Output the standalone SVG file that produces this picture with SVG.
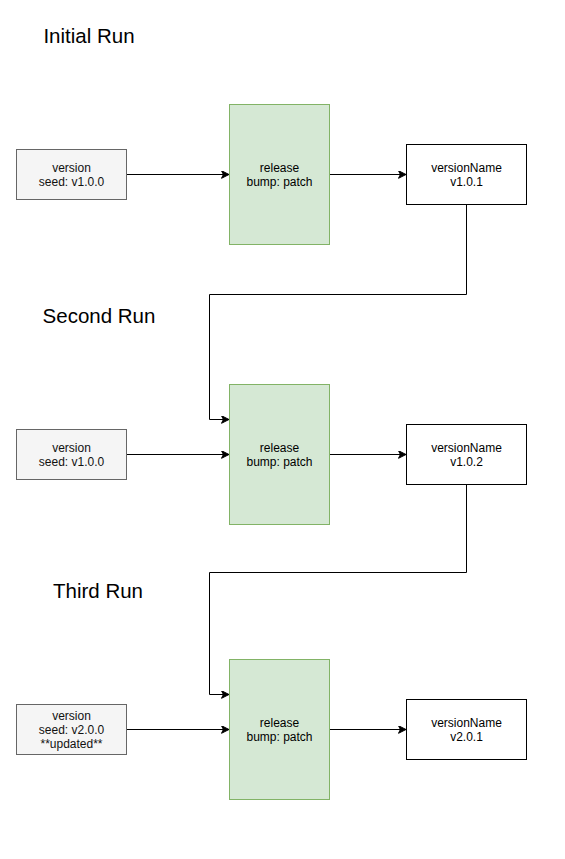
<svg xmlns="http://www.w3.org/2000/svg" width="565" height="859" viewBox="0 0 565 859">
<style>
.bg{fill:#ffffff}
.seed{fill:#f5f5f5;stroke:#666666;stroke-width:1}
.rel{fill:#d5e8d4;stroke:#82b366;stroke-width:1}
.out{fill:#ffffff;stroke:#000000;stroke-width:1}
.t{font-family:"Liberation Sans",Arial,sans-serif;font-size:12px;text-anchor:middle;fill:#000000}
.ts{fill:#111111}
.title{font-family:"Liberation Sans",Arial,sans-serif;font-size:20.5px;text-anchor:middle;fill:#000000}
.edge{fill:none;stroke:#000000;stroke-width:1}
</style>
<defs>
<marker id="arr" markerUnits="userSpaceOnUse" viewBox="-8 -4 9 8" refX="0" refY="0" markerWidth="9" markerHeight="8" orient="auto">
<path d="M0,0 L-7.5,-3.8 L-5.6,0 L-7.5,3.8 Z" fill="#000000" stroke="#000000" stroke-width="1"/>
</marker>
</defs>
<rect class="bg" x="0" y="0" width="565" height="859"/>

<g id="titles">
<text class="title" x="89" y="43">Initial Run</text>
<text class="title" x="99" y="323">Second Run</text>
<text class="title" x="98" y="598">Third Run</text>
</g>

<g id="connectors">
<path class="edge" d="M126.5,174.5 L229,174.5" marker-end="url(#arr)"/>
<path class="edge" d="M329.5,174.5 L406,174.5" marker-end="url(#arr)"/>
<path class="edge" d="M466.5,204.5 L466.5,294.5 L209.5,294.5 L209.5,419.5 L229,419.5" marker-end="url(#arr)"/>
<path class="edge" d="M126.5,454.5 L229,454.5" marker-end="url(#arr)"/>
<path class="edge" d="M329.5,454.5 L406,454.5" marker-end="url(#arr)"/>
<path class="edge" d="M466.5,484.5 L466.5,572.5 L209.5,572.5 L209.5,694.5 L229,694.5" marker-end="url(#arr)"/>
<path class="edge" d="M126.5,729.5 L229,729.5" marker-end="url(#arr)"/>
<path class="edge" d="M329.5,729.5 L406,729.5" marker-end="url(#arr)"/>
</g>

<g id="seed1">
<rect class="seed" x="16.5" y="149.5" width="110" height="50"/>
<text class="t ts" x="71.5" y="171.5">version</text>
<text class="t ts" x="71.5" y="185.5">seed: v1.0.0</text>
</g>
<g id="release1">
<rect class="rel" x="229.5" y="104.5" width="100" height="140"/>
<text class="t" x="279.5" y="171.5">release</text>
<text class="t" x="279.5" y="185.5">bump: patch</text>
</g>
<g id="versionName1">
<rect class="out" x="406.5" y="144.5" width="120" height="60"/>
<text class="t" x="466.5" y="171.5">versionName</text>
<text class="t" x="466.5" y="185.5">v1.0.1</text>
</g>

<g id="seed2">
<rect class="seed" x="16.5" y="429.5" width="110" height="50"/>
<text class="t ts" x="71.5" y="451.5">version</text>
<text class="t ts" x="71.5" y="465.5">seed: v1.0.0</text>
</g>
<g id="release2">
<rect class="rel" x="229.5" y="384.5" width="100" height="140"/>
<text class="t" x="279.5" y="451.5">release</text>
<text class="t" x="279.5" y="465.5">bump: patch</text>
</g>
<g id="versionName2">
<rect class="out" x="406.5" y="424.5" width="120" height="60"/>
<text class="t" x="466.5" y="451.5">versionName</text>
<text class="t" x="466.5" y="465.5">v1.0.2</text>
</g>

<g id="seed3">
<rect class="seed" x="16.5" y="704.5" width="110" height="50"/>
<text class="t ts" x="71.5" y="719.5">version</text>
<text class="t ts" x="71.5" y="733.5">seed: v2.0.0</text>
<text class="t ts" x="71.5" y="747.5">**updated**</text>
</g>
<g id="release3">
<rect class="rel" x="229.5" y="659.5" width="100" height="140"/>
<text class="t" x="279.5" y="726.5">release</text>
<text class="t" x="279.5" y="740.5">bump: patch</text>
</g>
<g id="versionName3">
<rect class="out" x="406.5" y="699.5" width="120" height="60"/>
<text class="t" x="466.5" y="726.5">versionName</text>
<text class="t" x="466.5" y="740.5">v2.0.1</text>
</g>
</svg>
